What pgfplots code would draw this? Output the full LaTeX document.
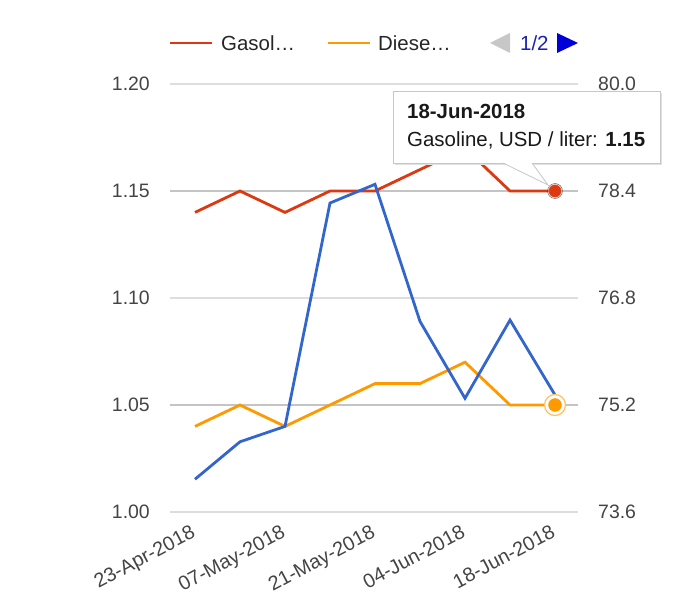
\documentclass[border=0pt]{standalone}
\usepackage{pgfplots}
\pgfplotsset{compat=1.18}
\usepackage{fontspec}
\setmainfont{Liberation Sans}
\definecolor{gred}{HTML}{DC3912}
\definecolor{gorange}{HTML}{FF9900}
\definecolor{gblue}{HTML}{3366CC}
\definecolor{ggrid}{HTML}{DDDDDD}
\definecolor{ggridd}{HTML}{C4C4C4}
\definecolor{gtext}{HTML}{444444}
\definecolor{gnavy}{HTML}{1A22B0}
\newcommand{\tickfont}{\fontsize{19.5}{21}\selectfont}
\newcommand{\xtickfont}{\fontsize{20}{22}\selectfont}
\newcommand{\legfont}{\fontsize{20.5}{22}\selectfont}
\begin{document}
\begin{tikzpicture}
\begin{axis}[
  scale only axis, width=408bp, height=428bp,
  xmin=-0.5556, xmax=8.511, ymin=1.0, ymax=1.2,
  axis line style={draw=none}, tick style={draw=none},
  major tick length=0pt,
  ytick={1.00,1.05,1.10,1.15,1.20},
  ymajorgrids, grid style={ggrid, line width=1.2bp},
  extra y ticks={1.05,1.15}, extra y tick labels={},
  extra y tick style={grid style={ggridd, line width=1.8bp}},
  xtick={0,2,4,6,8},
  xticklabels={23-Apr-2018,07-May-2018,21-May-2018,04-Jun-2018,18-Jun-2018},
  /pgf/number format/assume math mode=true,
  xticklabel style={xshift=-5bp, yshift=-12bp, rotate=28, anchor=north east, font=\xtickfont, text=gtext, inner sep=0pt},
  yticklabel style={/pgf/number format/fixed, /pgf/number format/fixed zerofill, /pgf/number format/precision=2, font=\tickfont, text=gtext, anchor=east, inner sep=0pt, xshift=-20bp},
  clip=false,
]
\addplot[gred, line width=2.8bp] coordinates {(0,1.14)(1,1.15)(2,1.14)(3,1.15)(4,1.15)(5,1.16)(6,1.17)(7,1.15)(8,1.15)};
\addplot[gorange, line width=2.8bp] coordinates {(0,1.04)(1,1.05)(2,1.04)(3,1.05)(4,1.06)(5,1.06)(6,1.07)(7,1.05)(8,1.05)};
\end{axis}
\begin{axis}[
  scale only axis, width=408bp, height=428bp,
  xmin=-0.5556, xmax=8.511, ymin=73.6, ymax=80.0,
  axis y line*=right, hide x axis,
  axis line style={draw=none}, tick style={draw=none}, major tick length=0pt,
  ytick={73.6,75.2,76.8,78.4,80.0},
  /pgf/number format/assume math mode=true,
  yticklabel style={/pgf/number format/fixed, /pgf/number format/fixed zerofill, /pgf/number format/precision=1, font=\tickfont, text=gtext, anchor=west, inner sep=0pt, xshift=20bp},
  clip=false,
]
\addplot[gblue, line width=2.8bp] coordinates {(0,74.09)(1,74.65)(2,74.88)(3,78.22)(4,78.50)(5,76.45)(6,75.30)(7,76.47)(8,75.35)};
\addplot[only marks, mark=*, mark size=10.5bp, mark options={fill=white, draw=gorange!60, line width=1.3bp}] coordinates {(8,75.2)};
\addplot[only marks, mark=*, mark size=6.5bp, mark options={fill=gorange, draw=gorange}] coordinates {(8,75.2)};
\addplot[only marks, mark=*, mark size=7.5bp, mark options={fill=gred!40, draw=none, opacity=0.6}] coordinates {(8,78.4)};
\addplot[only marks, mark=*, mark size=6bp, mark options={fill=gred, draw=gred}] coordinates {(8,78.4)};
\end{axis}
% legend
\draw[gred, line width=2.8bp] (0bp,469bp) -- (42bp,469bp);
\node[anchor=west, inner sep=0pt, font=\legfont, text=black!85] at (51bp,469bp) {Gasol…};
\draw[gorange, line width=2.8bp] (158bp,469bp) -- (200bp,469bp);
\node[anchor=west, inner sep=0pt, font=\legfont, text=black!85] at (208bp,469bp) {Diese…};
\fill[black!22] (320bp,469bp) -- (340bp,479bp) -- (340bp,459bp) -- cycle;
\node[anchor=west, inner sep=0pt, font=\legfont, text=gnavy] at (350bp,469bp) {1/2};
\fill[blue!85!black] (387bp,479bp) -- (387bp,459bp) -- (408bp,469bp) -- cycle;
% tooltip
\fill[black!12] (225bp,347bp) rectangle (492bp,419bp);
\fill[white, draw=black!22, line width=0.8bp] (223bp,349bp) rectangle (490bp,421bp);
\fill[white] (333bp,349.6bp) -- (378bp,327bp) -- (362bp,349.6bp) -- cycle;
\draw[black!22, line width=0.8bp] (333bp,349bp) -- (378bp,327bp) -- (362bp,349bp);
\node[anchor=base west, inner sep=0pt, font=\legfont\bfseries, text=black!90] at (237bp,393bp) {18-Jun-2018};
\node[anchor=base west, inner sep=0pt, font=\legfont, text=black!90] at (237bp,365bp) {Gasoline, USD / liter: \textbf{1.15}};
\pgfresetboundingbox
\useasboundingbox (-170bp,-88bp) rectangle (524bp,512bp);
\end{tikzpicture}
\end{document}
